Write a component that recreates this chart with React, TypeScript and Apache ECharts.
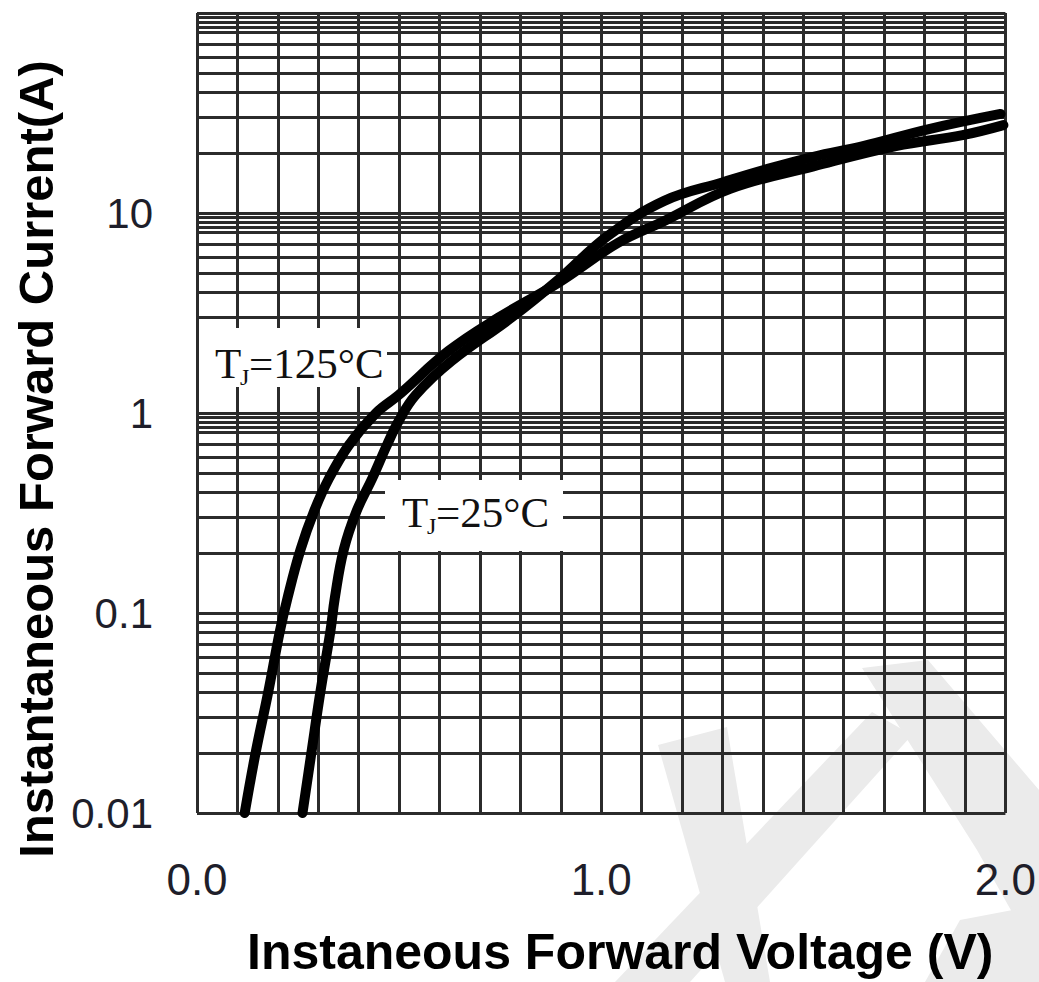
import React, { useEffect, useRef } from 'react';
import * as echarts from 'echarts';

// Forward voltage (V) / forward current (A)
const vf25 = [0.261, 0.283, 0.305, 0.33, 0.341, 0.363, 0.395, 0.434, 0.47, 0.499, 0.541, 0.63, 0.777, 0.893, 1.016, 1.156, 1.304, 1.402, 1.525, 1.648, 1.811, 1.988];
const if25 = [0.01, 0.02, 0.04, 0.081, 0.119, 0.207, 0.324, 0.473, 0.692, 0.912, 1.23, 1.82, 2.99, 4.62, 7.67, 11.5, 14.3, 16.4, 19.1, 21.6, 26.3, 31.3];
const vf125 = [0.118, 0.145, 0.176, 0.205, 0.224, 0.256, 0.29, 0.327, 0.376, 0.443, 0.499, 0.622, 0.745, 0.893, 1.041, 1.156, 1.319, 1.525, 1.729, 1.894, 1.995];
const if125 = [0.01, 0.02, 0.04, 0.081, 0.119, 0.207, 0.324, 0.473, 0.692, 1.0, 1.23, 2.04, 2.99, 4.47, 7.08, 9.12, 13.2, 17.1, 21.6, 24.5, 27.5];

const xTickLabels = ['0.0', '1.0', '2.0'];
const yTickLabels = ['0.01', '0.1', '1', '10'];
const decades = [0.01, 0.1, 1, 10];
const minorSteps = [2, 3, 4, 5, 6, 7, 8, 8.5, 9, 9.5];

const GRID = '#2b2b2b';
const GW = 3;

export default function App() {
  const ref = useRef<HTMLDivElement>(null);
  useEffect(() => {
    const chart = echarts.init(ref.current!, null, { renderer: 'svg' });
    const minorValues = decades.flatMap((d) => minorSteps.map((s) => +(d * s).toPrecision(6)));
    const serif = 'Liberation Serif, Times New Roman, serif';
    const wm = '#ebebeb';

    const labelGroup = (x0: number, y0: number, w: number, h: number, tx: number, cy: number, rest: string) => ({
      type: 'group',
      z: 50,
      silent: true,
      children: [
        { type: 'rect', shape: { x: x0, y: y0, width: w, height: h }, style: { fill: '#ffffff' }, z: 50 },
        { type: 'text', x: tx, y: cy, style: { text: 'T', font: `43px ${serif}`, fill: '#111', verticalAlign: 'middle', align: 'left' }, z: 51 },
        { type: 'text', x: tx + 25, y: cy + 14, style: { text: 'J', font: `24px ${serif}`, fill: '#111', verticalAlign: 'middle', align: 'left' }, z: 51 },
        { type: 'text', x: tx + 34, y: cy, style: { text: rest, font: `43px ${serif}`, fill: '#111', verticalAlign: 'middle', align: 'left' }, z: 51 },
      ],
    });

    const option: any = {
      animation: false,
      backgroundColor: '#ffffff',
      grid: { left: 197, right: 29, top: 13, bottom: 167, containLabel: false },
      xAxis: {
        type: 'value',
        min: 0,
        max: 2,
        interval: 1,
        axisLine: { show: false },
        axisTick: { show: false },
        splitLine: { show: true, lineStyle: { color: GRID, width: GW } },
        minorTick: { show: false, splitNumber: 10 },
        minorSplitLine: { show: true, lineStyle: { color: GRID, width: GW } },
        axisLabel: {
          margin: 44,
          fontSize: 44,
          fontFamily: 'Liberation Sans, Arial, sans-serif',
          color: '#1e1e2a',
          formatter: (v: number) => xTickLabels[Math.round(v)] ?? '',
        },
        name: 'Instaneous Forward Voltage (V)',
        nameLocation: 'middle',
        nameGap: 114,
        nameTextStyle: {
          fontSize: 50,
          fontWeight: 'bold',
          fontFamily: 'Liberation Sans, Arial, sans-serif',
          color: '#000',
          padding: [0, 0, 0, 38],
        },
      },
      yAxis: {
        type: 'log',
        logBase: 10,
        min: 0.01,
        max: 100,
        axisLine: { show: false },
        axisTick: { show: false },
        splitLine: { show: true, lineStyle: { color: GRID, width: GW } },
        axisLabel: {
          margin: 44,
          fontSize: 42,
          fontFamily: 'Liberation Sans, Arial, sans-serif',
          color: '#1e1e2a',
          formatter: (v: number) => {
            const i = decades.findIndex((d) => Math.abs(d - v) / d < 1e-6);
            return i >= 0 ? yTickLabels[i] : '';
          },
        },
        name: 'Instantaneous Forward Current(A)',
        nameLocation: 'middle',
        nameRotate: 90,
        nameGap: 135,
        nameTextStyle: {
          fontSize: 49,
          fontWeight: 'bold',
          fontFamily: 'Liberation Sans, Arial, sans-serif',
          color: '#000',
          padding: [0, 92, 0, 0],
        },
      },
      series: [
        {
          type: 'line',
          name: 'grid-minor',
          data: [],
          z: 1,
          silent: true,
          markLine: {
            silent: true,
            symbol: ['none', 'none'],
            label: { show: false },
            lineStyle: { color: GRID, width: GW, type: 'solid' },
            emphasis: { disabled: true },
            data: minorValues.map((v) => ({ yAxis: v })),
          },
        },
        {
          type: 'line',
          name: 'TJ=25°C',
          data: vf25.map((v, i) => [v, if25[i]]),
          symbol: 'none',
          smooth: 0.4,
          z: 5,
          lineStyle: { color: '#000', width: 10, cap: 'round', join: 'round' },
        },
        {
          type: 'line',
          name: 'TJ=125°C',
          data: vf125.map((v, i) => [v, if125[i]]),
          symbol: 'none',
          smooth: 0.4,
          z: 5,
          lineStyle: { color: '#000', width: 10, cap: 'round', join: 'round' },
        },
      ],
      graphic: [
        { type: 'polygon', z: -10, silent: true, shape: { points: [[658, 745], [727, 727], [770, 982], [725, 982]] }, style: { fill: wm } },
        { type: 'polygon', z: -10, silent: true, shape: { points: [[872, 712], [912, 735], [690, 982], [615, 982]] }, style: { fill: wm } },
        { type: 'polygon', z: -10, silent: true, shape: { points: [[862, 668], [928, 660], [1039, 790], [1039, 960], [977, 850]] }, style: { fill: wm } },
        { type: 'polygon', z: -10, silent: true, shape: { points: [[925, 982], [960, 920], [1039, 905], [1039, 982]] }, style: { fill: wm } },
        labelGroup(199, 328, 188, 59, 215, 363, '=125°C'),
        labelGroup(385, 480, 178, 71, 402, 512, '=25°C'),
      ],
    };
    chart.setOption(option);
    return () => chart.dispose();
  }, []);
  return <div ref={ref} style={{ position: 'absolute', left: 0, top: 0, width: 1039, height: 982 }} />;
}
